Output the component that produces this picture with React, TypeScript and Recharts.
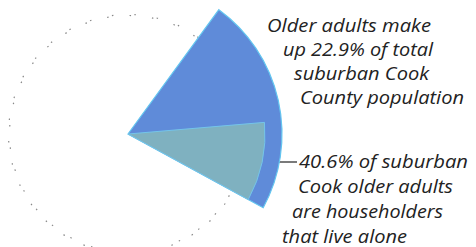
import { PieChart, Pie, Cell } from 'recharts';

// share of total suburban Cook County population
const popLabels = ['Older adults', 'Everyone else'];
const popShares = [22.9, 77.1];

// share of older adults who are householders living alone
const aloneLabels = ['Live alone', 'Other older adults'];
const aloneShares = [40.6, 59.4];

const popData = popLabels.map((name, i) => ({ name, value: popShares[i] }));
const aloneData = aloneLabels.map((name, i) => ({ name, value: aloneShares[i] }));

const START = -28.6;
const olderSweep = (popShares[0] / 100) * 360;

const topNote = ['Older adults make', `up ${popShares[0]}% of total`, 'suburban Cook', 'County population'];
const topX = [267, 283, 294, 300];
const topW = [164, 150, 135, 164];
const bottomNote = [`${aloneShares[0]}% of suburban`, 'Cook older adults', 'are householders', 'that live alone'];
const bottomX = [299, 298, 292, 282];
const bottomW = [169, 155, 151, 125];

export default function App() {
  const textStyle = { fontFamily: '"Open Sans", sans-serif', fontStyle: 'italic' as const, fontSize: 18.5, fill: '#222' };
  return (
    <div style={{ position: 'fixed', left: 0, top: 0, width: 476, height: 247, background: '#fff' }}>
      <PieChart width={476} height={247} margin={{ top: 0, right: 0, bottom: 0, left: 0 }}>
        {/* faint dotted outline of the full population circle */}
        <Pie data={popData} dataKey="value" cx={128} cy={134} innerRadius={118.5} outerRadius={119.5}
          startAngle={START} endAngle={START + 360} isAnimationActive={false} label={false}>
          <Cell fill="none" stroke="none" />
          <Cell fill="none" stroke="#888" strokeWidth={1.2} strokeDasharray="1.5 21" />
        </Pie>
        <Pie data={popData} dataKey="value" cx={128} cy={134} outerRadius={154}
          startAngle={START} endAngle={START + 360} isAnimationActive={false} label={false}>
          <Cell fill="#5f8bd9" stroke="#63c6f0" strokeWidth={1.2} />
          <Cell fill="none" stroke="none" />
        </Pie>
        <Pie data={aloneData} dataKey="value" cx={128} cy={134} outerRadius={137}
          startAngle={START} endAngle={START + olderSweep} isAnimationActive={false} label={false}>
          <Cell fill="#7fb1c0" stroke="#74c4ea" strokeWidth={1} />
          <Cell fill="none" stroke="none" />
        </Pie>
        <text x={224} y={85} textAnchor="middle" fill="#fff" fontFamily='"Open Sans", sans-serif' fontSize={13.5} letterSpacing={-0.6}>
          {`${popShares[0]}%`}
        </text>
        {topNote.map((t, i) => (
          <text key={t} x={topX[i]} y={32 + i * 24} textLength={topW[i]} lengthAdjust="spacingAndGlyphs" style={textStyle}>{t}</text>
        ))}
        <line x1={270} y1={162} x2={297} y2={162} stroke="#222" strokeWidth={1.2} />
        {bottomNote.map((t, i) => (
          <text key={t} x={bottomX[i]} y={168 + i * 25} textLength={bottomW[i]} lengthAdjust="spacingAndGlyphs" style={textStyle}>{t}</text>
        ))}
      </PieChart>
    </div>
  );
}
